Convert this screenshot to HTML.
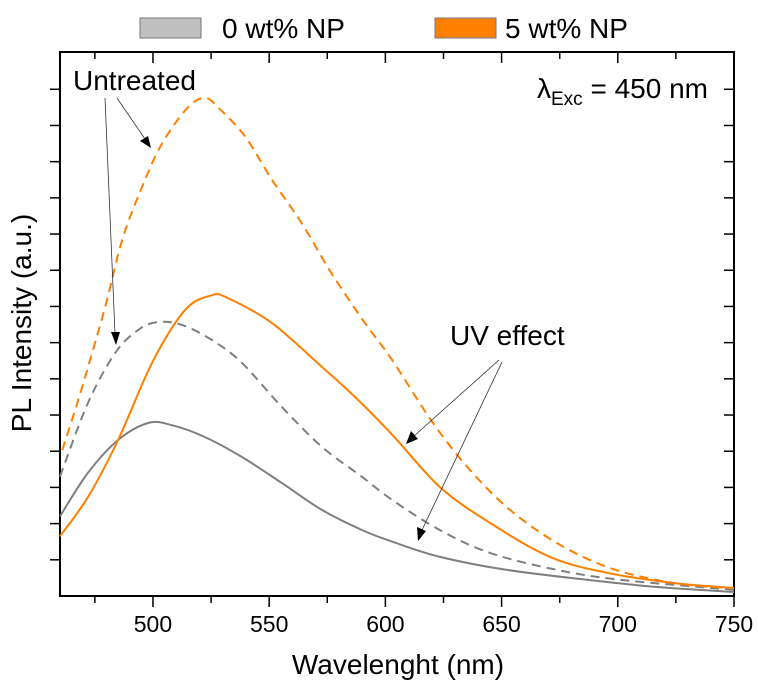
<!DOCTYPE html>
<html><head><meta charset="utf-8">
<style>
body{margin:0;background:#fff;}
svg{display:block;font-family:"Liberation Sans",Arial,sans-serif;}
</style></head>
<body>
<svg id="chart" width="758" height="690" viewBox="0 0 758 690" xmlns="http://www.w3.org/2000/svg">
  <g>
    <rect x="140" y="18" width="61" height="20" fill="#c0c0c0" stroke="#777" stroke-width="1"/>
    <text x="222" y="38" font-size="28" fill="#000">0 wt% NP</text>
    <rect x="435" y="18" width="61" height="20" fill="#ff8000" stroke="#777" stroke-width="1"/>
    <text x="505" y="38" font-size="28" fill="#000">5 wt% NP</text>
  </g>
  <g id="axes"></g>
  <g id="series"></g>
  <g>
    <text x="73" y="90" font-size="28">Untreated</text>
    <line x1="105" y1="98" x2="115" y2="334" stroke="#333" stroke-width="0.8"/>
    <polygon points="111,332 120,332 116,345" fill="#000"/>
    <line x1="117" y1="98" x2="145" y2="139" stroke="#333" stroke-width="0.8"/>
    <polygon points="140,141 148,136 151,148" fill="#000"/>
    <text x="450" y="345" font-size="28">UV effect</text>
    <line x1="499" y1="360" x2="414" y2="436" stroke="#333" stroke-width="0.8"/>
    <polygon points="411,431 418,439 406,444" fill="#000"/>
    <line x1="502" y1="362" x2="422" y2="530" stroke="#333" stroke-width="0.8"/>
    <polygon points="417,527 426,531 418,541" fill="#000"/>
    <text x="537" y="98" font-size="28">λ<tspan font-size="19" dy="7">Exc</tspan><tspan dy="-7"> = 450 nm</tspan></text>
  </g>
  <text x="398" y="674" font-size="28" text-anchor="middle">Wavelenght (nm)</text>
  <text transform="translate(31,323) rotate(-90)" font-size="28" text-anchor="middle">PL Intensity (a.u.)</text>
</svg>
<script>
// ---- data ----
const xTickValues = [500, 550, 600, 650, 700, 750];
const xTickLabels = ["500", "550", "600", "650", "700", "750"];
const orangeDashedX = [461,469.5,479.4,486.7,495.3,503.9,515,522.4,528,539.6,551.2,564,577,591.2,602.9,620.5,636.4,653.6,673.9,695.4,716.9,735,750];
const orangeDashedY = [4.03,5.77,7.98,9.83,11.3,12.5,13.5,13.76,13.5,12.7,11.5,10.3,8.9,7.54,6.52,4.78,3.48,2.38,1.46,0.80,0.44,0.28,0.22];
const orangeSolidX = [460,472,485,499.6,513.8,525.4,532.3,551.2,572.7,586.9,603,623.5,645,670.8,695.4,723.8,750];
const orangeSolidY = [1.65,2.73,4.31,6.44,7.9,8.31,8.23,7.54,6.33,5.5,4.45,3.01,2.02,1.08,0.64,0.36,0.22];
const grayDashedX = [460,472,483.7,493.6,502.2,512.5,525.4,538.3,555.5,572.7,590,603,623.5,645,673.9,702.3,750];
const grayDashedY = [3.3,5.33,6.71,7.35,7.57,7.49,7.07,6.44,5.22,4.12,3.29,2.65,1.82,1.19,0.72,0.44,0.17];
const graySolidX = [460,472,485,497.9,508.2,522.4,538.3,555.5,572.7,590,603,623.5,652.3,688,716.9,750];
const graySolidY = [2.2,3.4,4.31,4.78,4.72,4.39,3.84,3.12,2.38,1.82,1.5,1.08,0.72,0.44,0.25,0.11];

// ---- axes ----
const L=60, R=734, T=52, B=596;
const xMin=460, xMax=750, yMin=0, yMax=15.03;
const xs = v => L + (v-xMin)/(xMax-xMin)*(R-L);
const ys = v => B - (v-yMin)/(yMax-yMin)*(B-T);
const NS="http://www.w3.org/2000/svg";
function mk(tag, attrs, parent){const e=document.createElementNS(NS,tag);for(const k in attrs)e.setAttribute(k,attrs[k]);parent.appendChild(e);return e;}
const axes=document.getElementById('axes');
const frame=mk('rect',{x:L,y:T,width:R-L,height:B-T,fill:'none',stroke:'#000','stroke-width':2},axes);


for(let v=475; v<=750; v+=25){
  const major = v%50===0;
  const len = major?11:7;
  const t=mk('line',{x1:xs(v),x2:xs(v),y1:B,y2:B+len,stroke:'#000','stroke-width':1.5},axes);
  
  
  const t2=mk('line',{x1:xs(v),x2:xs(v),y1:T,y2:T+len,stroke:'#000','stroke-width':1.5},axes);
  
  
}
xTickValues.forEach((v,i)=>{
  const t=mk('text',{x:xs(v),y:632,'font-size':23,'text-anchor':'middle'},axes);
  t.textContent=xTickLabels[i];
  
  
});
for(let v=1; v<=14; v++){
  const t=mk('line',{x1:L-10,x2:L,y1:ys(v),y2:ys(v),stroke:'#000','stroke-width':1.5},axes);
  
  
  const t2=mk('line',{x1:R-10,x2:R,y1:ys(v),y2:ys(v),stroke:'#000','stroke-width':1.5},axes);
  
  
}
// ---- series (Catmull-Rom smoothing) ----
const series=document.getElementById('series');
function smoothPath(P){
  let d='M'+P[0][0].toFixed(1)+','+P[0][1].toFixed(1);
  for(let i=0;i<P.length-1;i++){
    const p0=P[Math.max(0,i-1)],p1=P[i],p2=P[i+1],p3=P[Math.min(P.length-1,i+2)];
    const c1x=p1[0]+(p2[0]-p0[0])/6,c1y=p1[1]+(p2[1]-p0[1])/6;
    const c2x=p2[0]-(p3[0]-p1[0])/6,c2y=p2[1]-(p3[1]-p1[1])/6;
    d+=' C'+c1x.toFixed(1)+','+c1y.toFixed(1)+' '+c2x.toFixed(1)+','+c2y.toFixed(1)+' '+p2[0].toFixed(1)+','+p2[1].toFixed(1);
  }
  return d;
}
function drawLine(X,Y,color,dash,name){
  const P=X.map((x,i)=>[xs(x),ys(Y[i])]);
  const p=mk('path',{d:smoothPath(P),fill:'none',stroke:color,'stroke-width':2,'stroke-linejoin':'round'},series);
  if(dash)p.setAttribute('stroke-dasharray','9,6');
  
  
}
drawLine(graySolidX,graySolidY,'#7f7f7f',false,'series-0wt-uv');
drawLine(grayDashedX,grayDashedY,'#7f7f7f',true,'series-0wt-untreated');
drawLine(orangeSolidX,orangeSolidY,'#ff7f00',false,'series-5wt-uv');
drawLine(orangeDashedX,orangeDashedY,'#ff7f00',true,'series-5wt-untreated');
</script>
</body></html>
